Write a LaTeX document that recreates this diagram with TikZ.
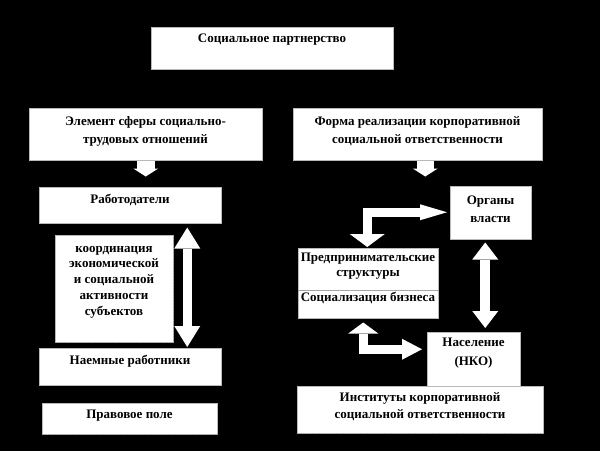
\documentclass[tikz,border=0pt]{standalone}
\usepackage{fontspec}
\setmainfont{Liberation Serif}
\usetikzlibrary{arrows.meta}
\begin{document}
\begin{tikzpicture}[x=1pt,y=-1pt,
  box/.style={draw=gray!55, line width=0.5pt, fill=white, inner sep=0pt, anchor=north west},
  txt/.style={font=\bfseries\fontsize{13}{17}\selectfont, align=center, inner sep=0pt, text=black},
  edgedash/.style={draw=gray!70, line width=0.8pt, dash pattern=on 2pt off 1pt},
  blk/.style={draw=white, line width=#1, line join=miter},
  blk/.default=9pt
]
\useasboundingbox (0,0) rectangle (600,451);
\fill[black] (0,0) rectangle (600,451);

% boxes
\node[box, minimum width=242pt, minimum height=42pt] (top) at (151,27) {};
\node[box, minimum width=233pt, minimum height=52pt] (lhead) at (29,108) {};
\node[box, minimum width=249pt, minimum height=52pt] (rhead) at (293,108) {};
\node[box, minimum width=182pt, minimum height=36pt] (rab) at (39,187) {};
\node[box, minimum width=118pt, minimum height=107pt] (coord) at (55,235) {};
\node[box, minimum width=182pt, minimum height=37pt] (naem) at (39,348) {};
\node[box, minimum width=175pt, minimum height=31pt] (pravo) at (42,403) {};
\node[box, minimum width=81pt, minimum height=53pt] (organy) at (450,186) {};
\node[box, minimum width=140pt, minimum height=70pt] (pred) at (298,248) {};
\node[box, minimum width=93pt, minimum height=54pt] (nasel) at (427,332) {};
\node[box, minimum width=246pt, minimum height=47pt] (inst) at (297,386) {};

% dashed edges
\draw[edgedash] (coord.south west) -- (coord.south east) -- (coord.north east);
\draw[edgedash] (pravo.south west) -- (pravo.south east);
\draw[edgedash] (inst.south west) -- (inst.south east);
\draw[draw=gray!70, line width=0.6pt] ([yshift=-42pt]pred.north west) -- ([yshift=-42pt]pred.north east);

% texts
\node[txt] at (272,40) {Социальное партнерство};
\node[txt, font=\bfseries\fontsize{13}{18}\selectfont] at (145.5,131) {Элемент сферы социально-\\трудовых отношений};
\node[txt, font=\bfseries\fontsize{13}{18}\selectfont] at (417.5,131) {Форма реализации корпоративной\\социальной ответственности};
\node[txt] at (130,200) {Работодатели};
\node[txt, font=\bfseries\fontsize{13}{15.75}\selectfont] at (114,282) {координация\\экономической\\и социальной\\активности\\субъектов};
\node[txt] at (130,361) {Наемные работники};
\node[txt] at (129.5,416) {Правовое поле};
\node[txt, font=\bfseries\fontsize{13}{18}\selectfont] at (490.5,209.5) {Органы\\власти};
\node[txt, font=\bfseries\fontsize{13}{15}\selectfont] at (368,266) {Предпринимательские\\структуры};
\node[txt] at (368,298) {Социализация бизнеса};
\node[txt, font=\bfseries\fontsize{13}{19}\selectfont] at (473.5,353) {Население\\(НКО)};
\node[txt, font=\bfseries\fontsize{13}{17}\selectfont] at (420,407) {Институты корпоративной\\социальной ответственности};

% arrows
\draw[blk=18pt, -{Triangle[length=8pt,width=25pt,fill=white,line width=0pt]}]
  (lhead.south) -- ++(0,16);
\draw[blk=17pt, -{Triangle[length=8pt,width=25pt,fill=white,line width=0pt]}]
  ([xshift=7.5pt]rhead.south) -- ++(0,16);
\draw[blk=9pt, {Triangle[length=21pt,width=26pt,fill=white,line width=0pt]}-{Triangle[length=21pt,width=26pt,fill=white,line width=0pt]}]
  ([xshift=57pt,yshift=-4pt]rab.south) -- ([xshift=57pt,yshift=1pt]naem.north);
\draw[blk=10pt, {Triangle[length=17pt,width=26pt,fill=white,line width=0pt]}-{Triangle[length=17pt,width=26pt,fill=white,line width=0pt]}]
  ([xshift=-5.5pt,yshift=-3pt]organy.south) -- ([xshift=11.5pt,yshift=4pt]nasel.north);
\draw[blk=9pt, {Triangle[length=27pt,width=16pt,fill=white,line width=0pt]}-{Triangle[length=13pt,width=35pt,fill=white,line width=0pt]}]
  ([xshift=-3pt,yshift=0.5pt]organy.west) -| ([xshift=-1pt,yshift=1pt]pred.north);
\draw[blk=9pt, {Triangle[length=11pt,width=30pt,fill=white,line width=0pt]}-{Triangle[length=20pt,width=21pt,fill=white,line width=0pt]}]
  ([xshift=-5pt,yshift=-4pt]pred.south) |- ([xshift=-5pt,yshift=10pt]nasel.west);
\end{tikzpicture}
\end{document}
